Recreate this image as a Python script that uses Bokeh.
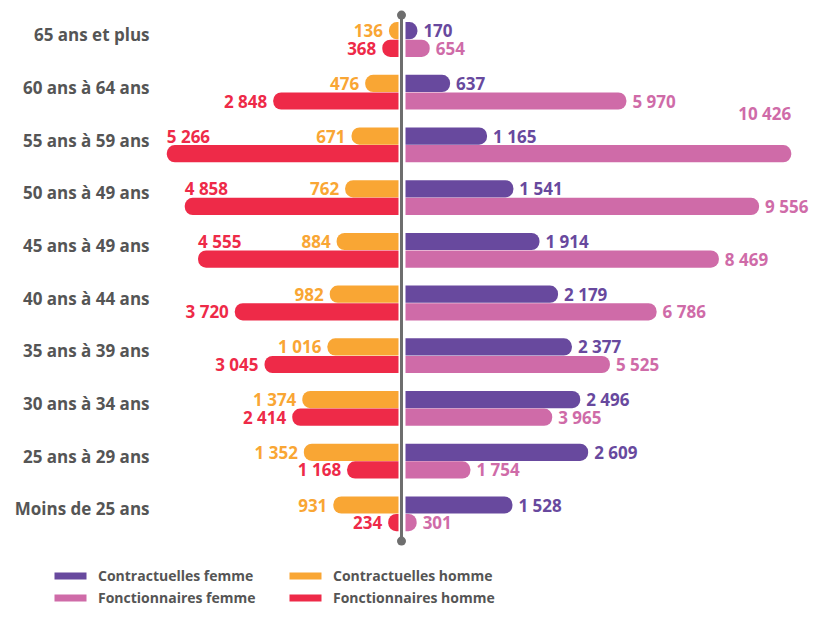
from bokeh.plotting import figure
from bokeh.models import ColumnDataSource, Range1d, Legend, LegendItem
from bokeh.core.properties import value
from bokeh.embed import file_html
from bokeh.resources import INLINE

# ---------------- data ----------------
categories = ["65 ans et plus", "60 ans à 64 ans", "55 ans à 59 ans", "50 ans à 49 ans",
              "45 ans à 49 ans", "40 ans à 44 ans", "35 ans à 39 ans", "30 ans à 34 ans",
              "25 ans à 29 ans", "Moins de 25 ans"]
contractuelles_femme = [170, 637, 1165, 1541, 1914, 2179, 2377, 2496, 2609, 1528]
fonctionnaires_femme = [654, 5970, 10426, 9556, 8469, 6786, 5525, 3965, 1754, 301]
contractuelles_homme = [136, 476, 671, 762, 884, 982, 1016, 1374, 1352, 931]
fonctionnaires_homme = [368, 2848, 5266, 4858, 4555, 3720, 3045, 2414, 1168, 234]
series_names = ["Contractuelles femme", "Contractuelles homme",
                "Fonctionnaires femme", "Fonctionnaires homme"]

# ---------------- style / layout ----------------
C_CF = "#68499e"
C_FF = "#cf6ba8"
C_CH = "#f9a634"
C_FH = "#ee2a48"
TXT = "#555555"
AXC = "#6e6e6e"
FONT = "Open Sans"

W, H = 813, 607
ZERO_PX = 401.0
# pixel-per-unit of each scale (the reference uses different scales per series)
K_FF = 0.037
K_FH = 0.044
K_CT = 0.070
GAP_R_PX = 4.0
GAP_L_PX = 3.0

ROW_PX = 52.7
ROW0_PX = 39.0
y_top = -ROW0_PX / ROW_PX
y_bottom = (H - ROW0_PX) / ROW_PX
HALF = 8.8 / ROW_PX
BAR_H = 17.2 / ROW_PX
R = 8

def rng(k):
    return Range1d(-ZERO_PX / k, (W - ZERO_PX) / k)

def fmt(v):
    return f"{v:,}".replace(",", " ")

p = figure(width=W, height=H, x_range=rng(K_FF),
           y_range=Range1d(y_bottom, y_top), output_backend="svg",
           toolbar_location=None, x_axis_type=None, y_axis_type=None,
           min_border=0, background_fill_color="white")
p.extra_x_ranges = {"ct": rng(K_CT), "fh": rng(K_FH)}
p.grid.visible = False
p.outline_line_color = None

n = len(categories)
rows = list(range(n))
upper = [i - HALF for i in rows]
lower = [i + HALF for i in rows]

def bar_src(vals, ys, k, side):
    if side == "right":
        g = GAP_R_PX / k
        return ColumnDataSource(dict(y=ys, left=[g] * len(vals),
                                     right=[g + v for v in vals]))
    g = GAP_L_PX / k
    return ColumnDataSource(dict(y=ys, right=[-g] * len(vals),
                                 left=[-g - v for v in vals]))

def bars(vals, ys, k, side, color, rname):
    br = (0, R, R, 0) if side == "right" else (R, 0, 0, R)
    kw = {} if rname is None else {"x_range_name": rname}
    return p.hbar(y="y", left="left", right="right", height=BAR_H,
                  source=bar_src(vals, ys, k, side), fill_color=color,
                  line_color=None, border_radius=br, **kw)

r_cf = bars(contractuelles_femme, upper, K_CT, "right", C_CF, "ct")
r_ff = bars(fonctionnaires_femme, lower, K_FF, "right", C_FF, None)
r_ch = bars(contractuelles_homme, upper, K_CT, "left", C_CH, "ct")
r_fh = bars(fonctionnaires_homme, lower, K_FH, "left", C_FH, "fh")

# central axis line with dots
ax_top = (14.6 - ROW0_PX) / ROW_PX
ax_bot = (540.6 - ROW0_PX) / ROW_PX
p.segment(x0=[0], y0=[ax_top], x1=[0], y1=[ax_bot], line_color=AXC, line_width=3)
p.scatter(x=[0, 0], y=[ax_top, ax_bot], size=9, marker="circle",
          fill_color=AXC, line_color=None)

# category labels
cat_x = -(ZERO_PX - 149) / K_FF
p.text(x=[cat_x] * n, y=[i - 4.9 / ROW_PX for i in rows], text=categories,
       text_font=value(FONT), text_font_style="bold", text_font_size="17px",
       text_color=TXT, text_align="right", text_baseline="middle")

def add_labels(vals, ys, color, side, k, rname, above_thr, above_dy):
    kw = {} if rname is None else {"x_range_name": rname}
    bx, by, bt, ax_, ay, at = [], [], [], [], [], []
    for v, y in zip(vals, ys):
        end = (GAP_R_PX / k + v) if side == "right" else (-GAP_L_PX / k - v)
        if v > above_thr:
            ax_.append(end); ay.append(y + above_dy); at.append(fmt(v))
        else:
            bx.append(end); by.append(y); bt.append(fmt(v))
    off = 6 if side == "right" else -6
    p.text(x=bx, y=by, text=bt, x_offset=off, text_font=value(FONT),
           text_font_style="bold", text_font_size="17px", text_color=color,
           text_align="left" if side == "right" else "right",
           text_baseline="middle", **kw)
    if ax_:
        p.text(x=ax_, y=ay, text=at, text_font=value(FONT),
               text_font_style="bold", text_font_size="17px", text_color=color,
               text_align="right" if side == "right" else "left",
               text_baseline="middle", **kw)

add_labels(contractuelles_femme, upper, C_CF, "right", K_CT, "ct", 1e9, 0)
add_labels(fonctionnaires_femme, lower, C_FF, "right", K_FF, None, 10000, -40.0 / ROW_PX)
add_labels(contractuelles_homme, upper, C_CH, "left", K_CT, "ct", 1e9, 0)
add_labels(fonctionnaires_homme, lower, C_FH, "left", K_FH, "fh", 4000, -2 * HALF)

legend = Legend(items=[LegendItem(label=series_names[0], renderers=[r_cf]),
                       LegendItem(label=series_names[1], renderers=[r_ch]),
                       LegendItem(label=series_names[2], renderers=[r_ff]),
                       LegendItem(label=series_names[3], renderers=[r_fh])],
                orientation="horizontal", ncols=2, location=(50, 0),
                glyph_width=40, glyph_height=9, label_standoff=8, spacing=3,
                label_width=184, label_height=18,
                label_text_font=FONT, label_text_font_style="bold",
                label_text_font_size="14px", label_text_color=TXT,
                border_line_color=None, background_fill_alpha=0,
                padding=0, margin=0)
p.add_layout(legend)

open("out.html", "w").write(file_html(p, INLINE))
